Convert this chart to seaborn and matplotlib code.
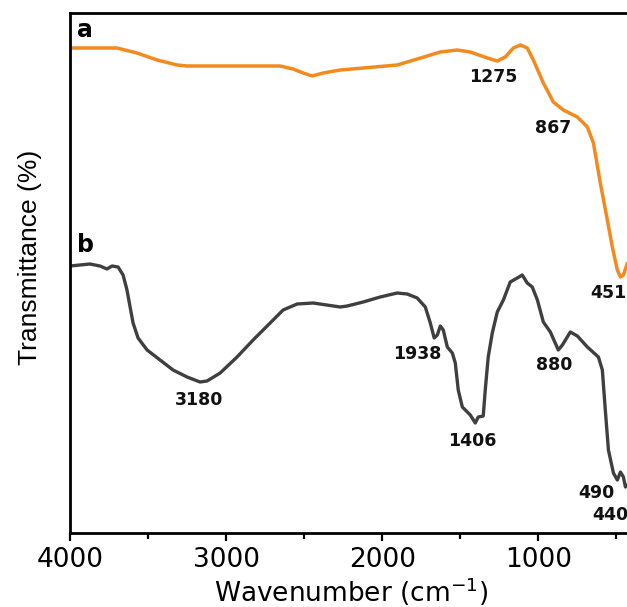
import pandas as pd
import matplotlib
matplotlib.use('Agg')
import matplotlib.pyplot as plt
import seaborn as sns

# spectrum a (orange)
wn_a = [4000, 3699, 3571, 3442, 3314, 3250, 2654, 2571, 2506, 2449, 2378, 2269,
        2122, 1904, 1776, 1628, 1519, 1436, 1327, 1263, 1212, 1160, 1115, 1071,
        1032, 968, 904, 840, 750, 686, 647, 603, 558, 526, 494, 474, 455, 429]
t_a = [485, 485, 480, 473, 468, 467, 467, 464, 460, 457, 460, 463,
       465, 468, 474, 481, 483, 481, 475, 472, 476, 485, 488, 485,
       473, 450, 431, 423, 416, 406, 390, 350, 313, 286, 263, 256, 258, 270]

# spectrum b (dark grey)
wn_b = [4000, 3872, 3808, 3763, 3731, 3692, 3660, 3635, 3615, 3596, 3564, 3506,
        3423, 3340, 3250, 3167, 3122, 3038, 2930, 2827, 2718, 2635, 2545, 2442,
        2269, 2224, 2122, 2013, 1904, 1840, 1776, 1724, 1692, 1667, 1647, 1628,
        1609, 1583, 1551, 1532, 1513, 1487, 1455, 1436, 1404, 1385, 1353, 1340,
        1321, 1295, 1263, 1224, 1180, 1135, 1103, 1071, 1039, 1006, 968, 923,
        872, 846, 795, 750, 686, 615, 590, 571, 551, 519, 494, 474, 455, 442, 429]
t_b = [267, 269, 267, 264, 267, 266, 258, 243, 226, 210, 195, 183,
       173, 163, 156, 151, 152, 160, 176, 193, 210, 223, 229, 230,
       226, 227, 231, 236, 240, 239, 235, 226, 210, 195, 198, 207,
       203, 186, 180, 170, 143, 126, 121, 118, 110, 116, 117, 143,
       176, 200, 221, 233, 251, 255, 258, 250, 246, 233, 211, 201,
       183, 188, 201, 197, 186, 176, 163, 123, 83, 60, 53, 61, 56, 46, 48]

peak_labels = ['1275', '867', '451', '3180', '1938', '1406', '880', '490', '440']
peak_x = [1288, 904, 667, 3173, 1776, 1423, 898, 628, 654]
peak_y = [456, 405, 240, 133, 179, 92, 168, 40, 18]
peak_ha = ['center', 'center', 'left', 'center', 'center', 'center', 'center', 'center', 'left']

df_a = pd.DataFrame({'wn': wn_a, 't': t_a})
df_b = pd.DataFrame({'wn': wn_b, 't': t_b})

sns.set_theme(style="white")
plt.rcParams['font.family'] = ['DejaVu Sans']
plt.rcParams['text.color'] = 'black'
plt.rcParams['axes.labelcolor'] = 'black'

fig = plt.figure(figsize=(6.27, 6.07), dpi=100)
ax = fig.add_axes([70 / 627, 74 / 607, 562 / 627, 520 / 607])

sns.lineplot(data=df_a, x='wn', y='t', color='#F28A1E', linewidth=2.5, ax=ax,
             solid_joinstyle='round', solid_capstyle='round')
sns.lineplot(data=df_b, x='wn', y='t', color='#3F3F3F', linewidth=2.4, ax=ax,
             solid_joinstyle='round', solid_capstyle='round')

ax.set_xlim(4000, 400)
ax.set_ylim(0, 520)

ax.set_xticks([4000, 3000, 2000, 1000])
ax.set_xticks([3500, 2500, 1500, 500], minor=True)
ax.set_yticks([])
ax.tick_params(axis='x', which='both', direction='out', bottom=True,
               length=6, width=1.6, colors='black', labelsize=19, pad=4)
ax.tick_params(axis='x', which='minor', length=4)

for s in ['left', 'bottom', 'top']:
    ax.spines[s].set_color('black')
    ax.spines[s].set_linewidth(2)
ax.spines['right'].set_visible(False)

ax.set_xlabel('Wavenumber (cm$^{-1}$)', fontsize=19, labelpad=2)
ax.set_ylabel('Transmittance (%)', fontsize=19, family='Liberation Sans')
ax.yaxis.set_label_coords(-0.05, 0.53)

ax.text(3955, 503, 'a', fontsize=17, fontweight='bold', ha='left', va='center')
ax.text(3955, 288, 'b', fontsize=17, fontweight='bold', ha='left', va='center')

for lab, x, y, ha in zip(peak_labels, peak_x, peak_y, peak_ha):
    ax.text(x, y, lab, fontsize=12.5, fontweight='bold',
            ha=ha, va='center', color='#111111')

fig.savefig('out.png', dpi=100)
